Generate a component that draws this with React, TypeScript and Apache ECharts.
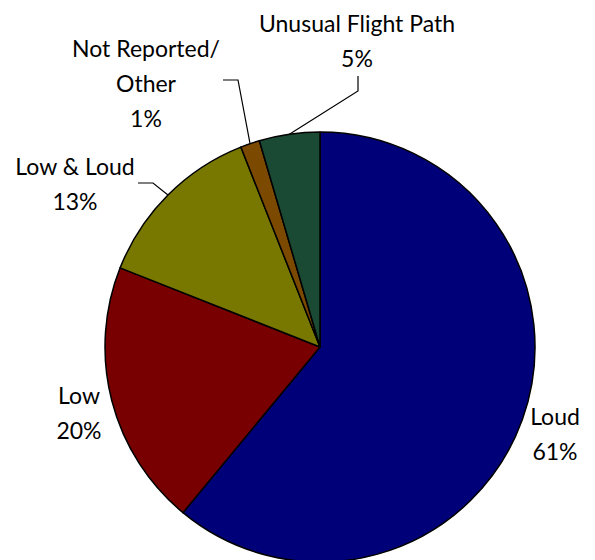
import React, { useEffect, useRef } from "react";
import * as echarts from "echarts";

const categories = ["Loud", "Low", "Low & Loud", "Not Reported/\nOther", "Unusual Flight Path"];
const values = [61, 20, 13, 1.45, 4.55];
const colors = ["#000078", "#780000", "#787800", "#7B4A00", "#1A4A33"];
const showLeader = [false, false, true, true, true];

// label anchor (center) positions, layout only
const labelCenters: number[][] = [
  [555, 433],
  [79, 412],
  [75, 183],
  [146, 83],
  [357, 40],
];
// leader-line bend points after the pie-edge start point
const leaderBends: number[][][] = [
  [],
  [],
  [[153, 183], [138, 183]],
  [[238, 80], [223, 80]],
  [[358, 91], [358, 76]],
];

export default function App() {
  const ref = useRef<HTMLDivElement>(null);
  useEffect(() => {
    document.body.style.margin = "0";
    const chart = echarts.init(ref.current!, null, { renderer: "svg" });
    chart.setOption({
      animation: false,
      backgroundColor: "#ffffff",
      series: [
        {
          type: "pie",
          center: [320, 347],
          radius: 215,
          startAngle: 90,
          clockwise: true,
          percentPrecision: 0,
          silent: true,
          itemStyle: { borderColor: "#000000", borderWidth: 1.5 },
          label: {
            show: true,
            position: "outside",
            formatter: "{b}\n{d}%",
            fontFamily: "Lato",
            fontSize: 23,
            lineHeight: 35,
            color: "#000000",
            align: "center",
            overflow: "none",
            width: 300,
          },
          labelLine: {
            show: true,
            length: 20,
            length2: 15,
            lineStyle: { color: "#000000", width: 1.2 },
          },
          labelLayout: (params: any) => {
            const i = params.dataIndex;
            const [x, y] = labelCenters[i];
            const out: any = { x, y, align: "center", verticalAlign: "middle", width: 300 };
            if (showLeader[i] && params.labelLinePoints && params.labelLinePoints.length) {
              out.labelLinePoints = [params.labelLinePoints[0], ...leaderBends[i]];
            }
            return out;
          },
          data: categories.map((name, i) => ({
            name,
            value: values[i],
            itemStyle: { color: colors[i] },
            labelLine: { show: showLeader[i] },
          })),
        },
      ],
    });
    return () => chart.dispose();
  }, []);
  return <div ref={ref} style={{ width: 595, height: 560 }} />;
}
